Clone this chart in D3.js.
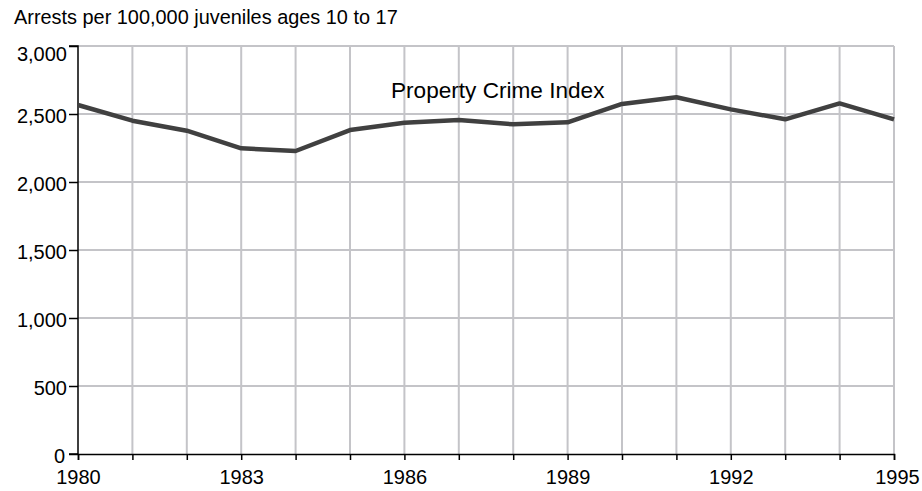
<!DOCTYPE html>
<html><head><meta charset="utf-8">
<script src="https://cdn.jsdelivr.net/npm/d3@7"></script>
<style>body{margin:0;background:#fff}svg{display:block;font-family:"Liberation Sans",Arial,sans-serif}</style>
</head><body><svg id="c" width="922" height="491"></svg>
<script>
const years = [1980,1981,1982,1983,1984,1985,1986,1987,1988,1989,1990,1991,1992,1993,1994,1995];
const propertyIndex = [2566,2451,2377,2248,2228,2382,2436,2456,2424,2439,2574,2623,2534,2461,2578,2461];
const yTicks = [0,500,1000,1500,2000,2500,3000];
const xLabels = [1980,1983,1986,1989,1992,1995];
const yTitle = "Arrests per 100,000 juveniles ages 10 to 17";
const seriesLabel = "Property Crime Index";

const svg = d3.select("#c");
const x = d3.scaleLinear().domain([1980,1995]).range([78,894]);
const y = d3.scaleLinear().domain([0,3000]).range([454,46]);

// grid
svg.append("g").selectAll("line").data(years.slice(1)).join("line")
  .attr("x1",d=>x(d)).attr("x2",d=>x(d)).attr("y1",y(0)).attr("y2",y(3000))
  .attr("stroke","#c4c4c8").attr("stroke-width",2);
svg.append("g").selectAll("line").data(yTicks.slice(1)).join("line")
  .attr("x1",x(1980)).attr("x2",x(1995)).attr("y1",d=>y(d)).attr("y2",d=>y(d))
  .attr("stroke","#c4c4c8").attr("stroke-width",2);

// axes
const ya = svg.append("g").attr("transform",`translate(${x(1980)},0)`)
  .call(d3.axisLeft(y).tickValues(yTicks).tickFormat(d3.format(",")).tickSize(9).tickPadding(2));
const xa = svg.append("g").attr("transform",`translate(0,${y(0)})`)
  .call(d3.axisBottom(x).tickValues(years).tickFormat(d=>xLabels.includes(d)?d:"").tickSize(6).tickPadding(1));
[ya,xa].forEach(a=>{
  a.select(".domain").attr("stroke","#000").attr("stroke-width",1.5);
  a.selectAll(".tick line").attr("stroke","#000").attr("stroke-width",1.5);
  a.selectAll("text").attr("fill","#000").style("font-size","20px").style("font-family","'Liberation Sans',Arial,sans-serif");
});
ya.select(".domain").attr("d",`M-9,${y(3000)}H0V${y(0)}H-9`);
ya.selectAll(".tick text").attr("dy",d=>d===3000?"0.72em":"0.4em");
ya.selectAll(".tick").filter(d=>d===0).select("text").attr("dx","-2");
xa.selectAll("text").attr("y",30).attr("dy","0");
xa.selectAll(".tick").filter(d=>d===1995).select("text").attr("dx","3");

// line
svg.append("path").datum(years.map((d,i)=>[d,propertyIndex[i]]))
  .attr("d",d3.line().x(d=>x(d[0])).y(d=>y(d[1])))
  .attr("fill","none").attr("stroke","#404040").attr("stroke-width",4.5).attr("stroke-linejoin","round");

svg.append("text").attr("x",14).attr("y",24).text(yTitle)
  .style("font-size","19.9px").attr("fill","#000");
svg.append("text").attr("x",391).attr("y",98).text(seriesLabel)
  .style("font-size","22.6px").attr("fill","#000");
</script></body></html>
